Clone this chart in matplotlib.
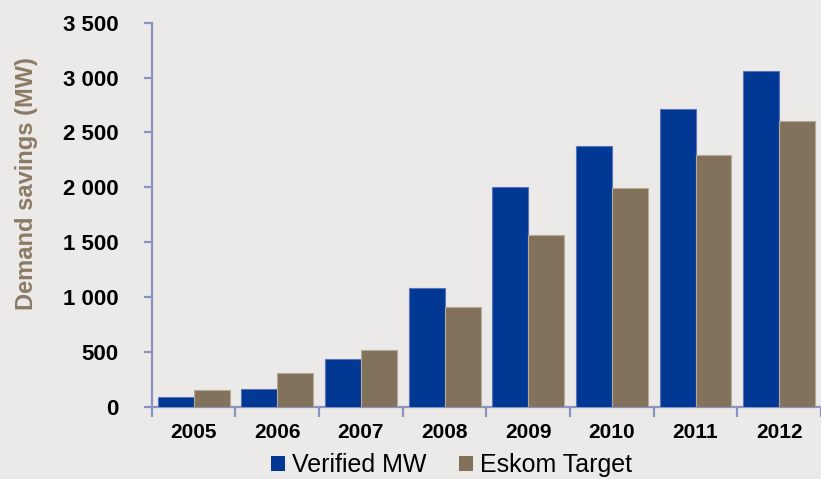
import matplotlib
matplotlib.use("Agg")
import matplotlib.pyplot as plt
from matplotlib.patches import Patch
from matplotlib.ticker import FuncFormatter, FixedLocator
import numpy as np

years = ["2005", "2006", "2007", "2008", "2009", "2010", "2011", "2012"]
verified_mw = [88, 157, 430, 1078, 1998, 2372, 2714, 3061]
eskom_target = [150, 303, 512, 912, 1562, 1990, 2290, 2605]
y_ticks = [0, 500, 1000, 1500, 2000, 2500, 3000, 3500]

plt.rcParams['font.family'] = ['Liberation Sans', 'DejaVu Sans']

bg = "#EBEAE8"
blue = "#003893"
brown = "#82725C"
spine_c = "#8A93C1"

fig = plt.figure(figsize=(8.21, 4.79), dpi=100, facecolor=bg)
ax = fig.add_axes([0.1848, 0.1511, 1 - 0.1848, 0.9526 - 0.1511])
ax.set_facecolor(bg)

x = np.arange(len(years))
w = 0.43
ax.bar(x - w / 2, verified_mw, width=w, color=blue, edgecolor="#5B73B8", linewidth=0.8, zorder=3)
ax.bar(x + w / 2, eskom_target, width=w, color=brown, edgecolor="#B5AA98", linewidth=0.8, zorder=3)

ax.set_xlim(-0.5, 7.328)
ax.set_ylim(0, 3500)

for s in ["top", "right"]:
    ax.spines[s].set_visible(False)
for s in ["left", "bottom"]:
    ax.spines[s].set_color(spine_c)
    ax.spines[s].set_linewidth(1.6)

ax.yaxis.set_major_locator(FixedLocator(y_ticks))
ax.yaxis.set_major_formatter(FuncFormatter(lambda v, p: f"{int(v):,}".replace(",", " ")))
ax.tick_params(axis="y", direction="out", length=6, width=1.6, color=spine_c,
               labelsize=16, pad=18)
for lab in ax.get_yticklabels():
    lab.set_fontweight("bold")

ax.set_xticks(np.arange(len(years) + 1) - 0.5)
ax.set_xticklabels([])
ax.tick_params(axis="x", which="major", direction="out", length=7, width=1.6, color=spine_c)
ax.set_xticks(x, minor=True)
ax.set_xticklabels(years, minor=True, fontsize=15, fontweight="bold")
ax.tick_params(axis="x", which="minor", length=0, pad=12)

fig.text(27 / 821, 1 - 183.5 / 479, "Demand savings (MW)", rotation=90,
         ha="center", va="center", fontsize=17, fontweight="bold", color="#8B7B65")

handles = [Patch(facecolor=blue, edgecolor="none", label="Verified MW"),
           Patch(facecolor=brown, edgecolor="none", label="Eskom Target")]
fig.legend(handles=handles, loc="center", bbox_to_anchor=(451.5 / 821, 1 - 465 / 479),
           ncol=2, frameon=False, fontsize=18, handlelength=0.55, handleheight=0.55,
           handletextpad=0.3, columnspacing=1.3, borderpad=0)

fig.savefig("out.png", dpi=100, facecolor=bg)
